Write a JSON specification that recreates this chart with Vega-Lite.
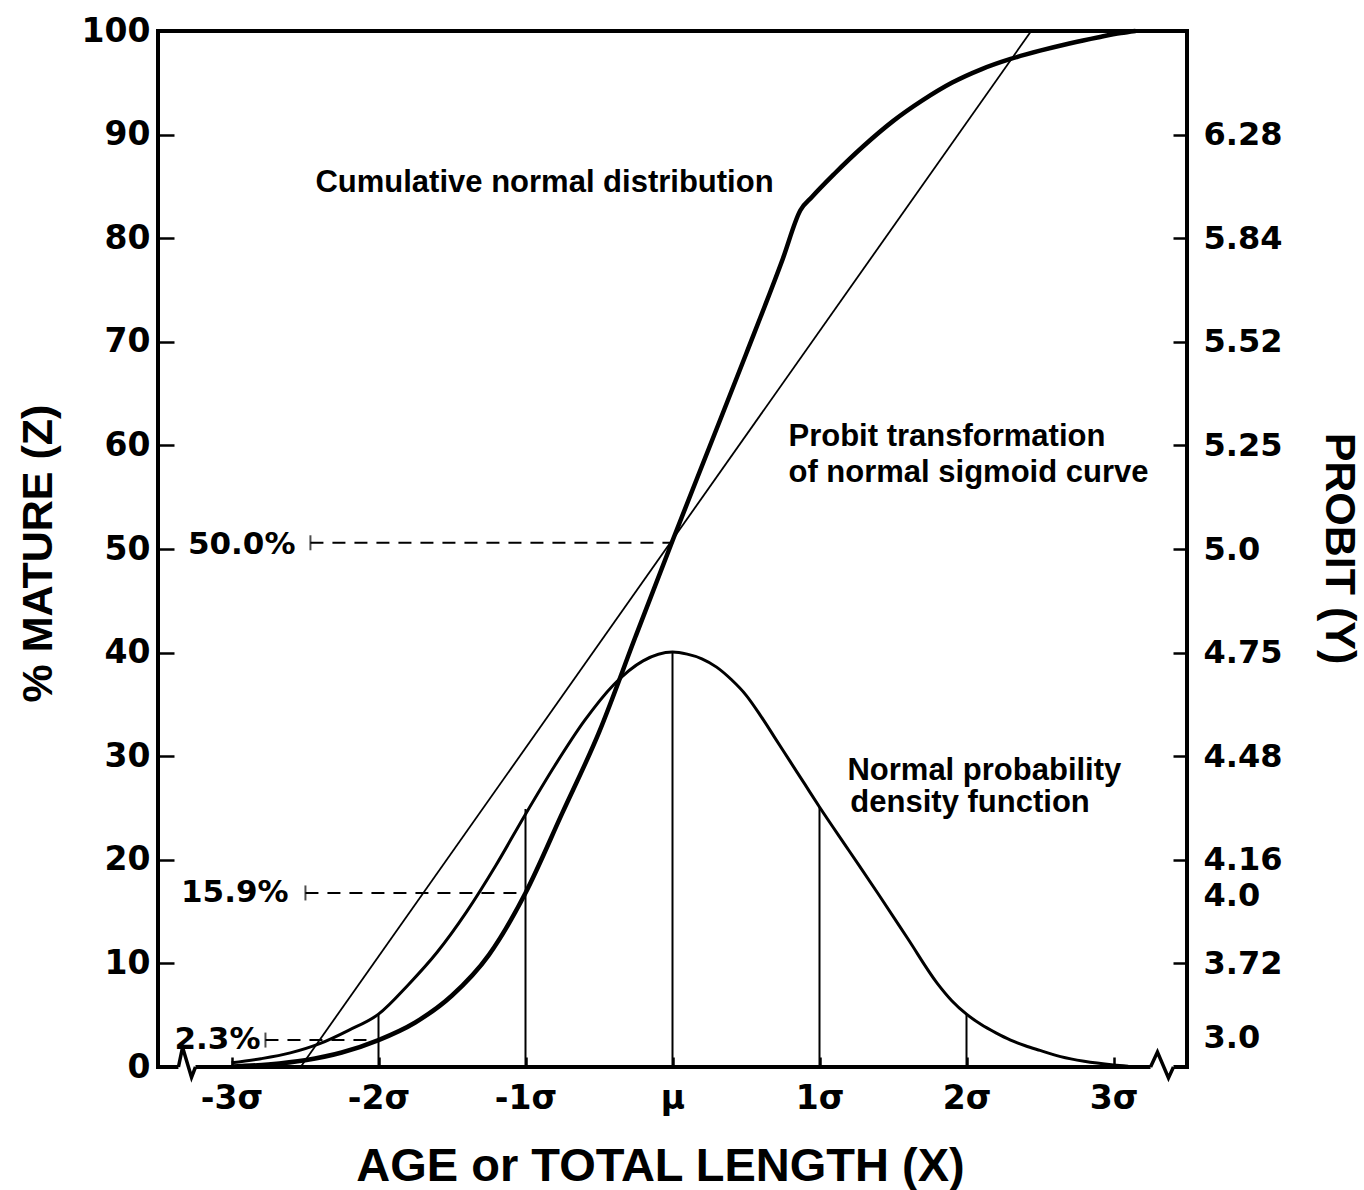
{
  "$schema": "https://vega.github.io/schema/vega-lite/v6.json",
  "width": 1029,
  "height": 1036,
  "autosize": {"type": "none"},
  "padding": {"left": 158, "top": 31, "right": 177, "bottom": 123},
  "background": "white",
  "config": {
    "view": {"stroke": "black", "strokeWidth": 4},
    "axis": {
      "domain": false, "grid": false,
      "labelFont": "DejaVu Sans", "labelFontWeight": "bold", "labelFontSize": 33, "labelColor": "black",
      "tickColor": "black", "tickWidth": 2.5,
      "titleFont": "Liberation Sans", "titleFontWeight": "bold", "titleColor": "black",
      "labelOverlap": false, "labelFlush": false
    }
  },
  "datasets": {
    "cdf": [
      {"x": -3.0, "y": 0.05}, {"x": -2.75, "y": 0.25}, {"x": -2.5, "y": 0.65}, {"x": -2.25, "y": 1.4},
      {"x": -2.0, "y": 2.6}, {"x": -1.75, "y": 4.3}, {"x": -1.5, "y": 6.9}, {"x": -1.25, "y": 10.8},
      {"x": -1.0, "y": 16.8}, {"x": -0.75, "y": 24.5}, {"x": -0.5, "y": 32.3}, {"x": -0.25, "y": 41.6},
      {"x": 0.0, "y": 50.8}, {"x": 0.25, "y": 59.8}, {"x": 0.5, "y": 68.8}, {"x": 0.75, "y": 78.0},
      {"x": 0.87, "y": 82.7}, {"x": 0.95, "y": 84.0}, {"x": 1.1, "y": 86.2}, {"x": 1.3, "y": 88.9},
      {"x": 1.5, "y": 91.3}, {"x": 1.7, "y": 93.3}, {"x": 1.9, "y": 95.0}, {"x": 2.1, "y": 96.3},
      {"x": 2.3, "y": 97.3}, {"x": 2.5, "y": 98.1}, {"x": 2.7, "y": 98.8}, {"x": 2.9, "y": 99.4},
      {"x": 3.05, "y": 99.8}, {"x": 3.15, "y": 100.0}
    ],
    "pdf": [
      {"x": -3.0, "y": 0.4}, {"x": -2.8, "y": 0.8}, {"x": -2.6, "y": 1.36}, {"x": -2.4, "y": 2.25},
      {"x": -2.2, "y": 3.56}, {"x": -2.0, "y": 5.1}, {"x": -1.8, "y": 7.9}, {"x": -1.6, "y": 11.1},
      {"x": -1.4, "y": 15.0}, {"x": -1.2, "y": 19.5}, {"x": -1.0, "y": 24.4}, {"x": -0.8, "y": 29.1},
      {"x": -0.6, "y": 33.4}, {"x": -0.4, "y": 36.9}, {"x": -0.2, "y": 39.2}, {"x": 0.0, "y": 40.05},
      {"x": 0.1, "y": 39.85}, {"x": 0.2, "y": 39.4}, {"x": 0.3, "y": 38.6}, {"x": 0.4, "y": 37.4},
      {"x": 0.5, "y": 35.9}, {"x": 0.6, "y": 33.9}, {"x": 0.7, "y": 31.7}, {"x": 0.8, "y": 29.5},
      {"x": 0.9, "y": 27.3}, {"x": 1.0, "y": 25.1}, {"x": 1.2, "y": 20.9}, {"x": 1.4, "y": 16.7},
      {"x": 1.6, "y": 12.4}, {"x": 1.8, "y": 8.1}, {"x": 1.9, "y": 6.4}, {"x": 2.0, "y": 5.1},
      {"x": 2.1, "y": 4.1}, {"x": 2.2, "y": 3.3}, {"x": 2.3, "y": 2.6}, {"x": 2.4, "y": 2.05},
      {"x": 2.5, "y": 1.6}, {"x": 2.64, "y": 1.0}, {"x": 2.8, "y": 0.55}, {"x": 3.0, "y": 0.2},
      {"x": 3.1, "y": 0.08}
    ],
    "probit": [{"x": -2.53, "y": 0}, {"x": 2.44, "y": 100}],
    "vlines": [
      {"x": -2, "top": 5.1, "base": 0}, {"x": -1, "top": 24.9, "base": 0}, {"x": 0, "top": 40.05, "base": 0},
      {"x": 1, "top": 25.1, "base": 0}, {"x": 2, "top": 5.1, "base": 0}
    ],
    "dashes": [
      {"x1": -2.463, "x2": 0.0, "y": 50.6, "label": "50.0%", "lx": -2.565, "ly": 50.4},
      {"x1": -2.497, "x2": -1.0, "y": 16.8, "label": "15.9%", "lx": -2.612, "ly": 16.8},
      {"x1": -2.769, "x2": -2.0, "y": 2.6, "label": "2.3%", "lx": -2.803, "ly": 2.6}
    ],
    "notes": [
      {"x": -2.429, "y": 85.3, "text": "Cumulative normal distribution"},
      {"x": 0.789, "y": 60.8, "text": "Probit transformation"},
      {"x": 0.789, "y": 57.3, "text": "of normal sigmoid curve"},
      {"x": 1.19, "y": 28.6, "text": "Normal probability"},
      {"x": 1.21, "y": 25.5, "text": "density function"}
    ],
    "gaps": [
      {"g": "L", "x1": -3.361, "x2": -3.245, "y": 0},
      {"g": "R", "x1": 3.252, "x2": 3.408, "y": 0}
    ],
    "breaks": [
      {"g": "L", "x": -3.361, "y": 0}, {"g": "L", "x": -3.333, "y": 1.9}, {"g": "L", "x": -3.272, "y": -1.0}, {"g": "L", "x": -3.245, "y": 0},
      {"g": "R", "x": 3.252, "y": 0}, {"g": "R", "x": 3.299, "y": 1.45}, {"g": "R", "x": 3.374, "y": -1.06}, {"g": "R", "x": 3.408, "y": 0}
    ]
  },
  "resolve": {"axis": {"x": "independent", "y": "independent"}},
  "layer": [
    {
      "data": {"name": "vlines"},
      "mark": {"type": "rule", "color": "black", "strokeWidth": 2},
      "encoding": {
        "x": {"field": "x", "type": "quantitative", "scale": {"domain": [-3.5, 3.5], "nice": false, "zero": false},
          "axis": {
            "orient": "bottom", "values": [-3, -2, -1, 0, 1, 2, 3],
            "labelExpr": "datum.value == 0 ? 'μ' : datum.value + 'σ'",
            "tickSize": -10, "labelPadding": 25,
            "title": "AGE or TOTAL LENGTH (X)", "titleFontSize": 47,
            "titleX": 502, "titleY": 99, "titleAlign": "center", "titleBaseline": "middle"
          }},
        "y": {"field": "top", "type": "quantitative", "scale": {"domain": [0, 100], "nice": false, "zero": false},
          "axis": {
            "orient": "left", "values": [0, 10, 20, 30, 40, 50, 60, 70, 80, 90, 100],
            "tickSize": -16, "labelPadding": 24,
            "title": "% MATURE (Z)", "titleFontSize": 43, "titleAngle": -90,
            "titleX": -120, "titleY": 522, "titleAlign": "center", "titleBaseline": "middle"
          }},
        "y2": {"field": "base"}
      }
    },
    {
      "data": {"name": "probit"},
      "mark": {"type": "line", "color": "black", "strokeWidth": 1.8},
      "encoding": {
        "x": {"field": "x", "type": "quantitative", "scale": {"domain": [-3.5, 3.5], "nice": false, "zero": false}, "axis": null},
        "y": {"field": "y", "type": "quantitative", "scale": {"domain": [0, 100], "nice": false, "zero": false}, "axis": null}
      }
    },
    {
      "data": {"name": "pdf"},
      "mark": {"type": "line", "color": "black", "strokeWidth": 3, "interpolate": "monotone"},
      "encoding": {
        "x": {"field": "x", "type": "quantitative", "scale": {"domain": [-3.5, 3.5], "nice": false, "zero": false}, "axis": null},
        "y": {"field": "y", "type": "quantitative", "scale": {"domain": [0, 100], "nice": false, "zero": false},
          "axis": {
            "orient": "right", "values": [90, 80, 70, 60, 50, 40, 30, 20, 16.6, 10, 2.8],
            "labelExpr": "datum.value == 90 ? '6.28' : datum.value == 80 ? '5.84' : datum.value == 70 ? '5.52' : datum.value == 60 ? '5.25' : datum.value == 50 ? '5.0' : datum.value == 40 ? '4.75' : datum.value == 30 ? '4.48' : datum.value == 20 ? '4.16' : datum.value == 16.6 ? '4.0' : datum.value == 10 ? '3.72' : '3.0'",
            "tickSize": -14, "labelPadding": 30, "labelAlign": "left", "labelFontSize": 32,
            "tickOpacity": {"condition": {"test": "datum.value == 16.6 || datum.value == 2.8", "value": 0}, "value": 1},
            "title": "PROBIT (Y)", "titleFontSize": 43, "titleAngle": 90,
            "titleX": 151, "titleY": 517, "titleAlign": "center", "titleBaseline": "middle"
          }}
      }
    },
    {
      "data": {"name": "cdf"},
      "mark": {"type": "line", "color": "black", "strokeWidth": 4.5, "interpolate": "monotone"},
      "encoding": {
        "x": {"field": "x", "type": "quantitative", "scale": {"domain": [-3.5, 3.5], "nice": false, "zero": false}, "axis": null},
        "y": {"field": "y", "type": "quantitative", "scale": {"domain": [0, 100], "nice": false, "zero": false}, "axis": null}
      }
    },
    {
      "data": {"name": "dashes"},
      "mark": {"type": "rule", "color": "black", "strokeWidth": 2, "strokeDash": [13, 9]},
      "encoding": {
        "x": {"field": "x1", "type": "quantitative", "scale": {"domain": [-3.5, 3.5], "nice": false, "zero": false}, "axis": null},
        "x2": {"field": "x2"},
        "y": {"field": "y", "type": "quantitative", "scale": {"domain": [0, 100], "nice": false, "zero": false}, "axis": null}
      }
    },
    {
      "data": {"name": "dashes"},
      "mark": {"type": "tick", "orient": "vertical", "color": "black", "size": 15, "thickness": 2},
      "encoding": {
        "x": {"field": "x1", "type": "quantitative", "scale": {"domain": [-3.5, 3.5], "nice": false, "zero": false}, "axis": null},
        "y": {"field": "y", "type": "quantitative", "scale": {"domain": [0, 100], "nice": false, "zero": false}, "axis": null}
      }
    },
    {
      "data": {"name": "dashes"},
      "mark": {"type": "text", "align": "right", "baseline": "middle", "font": "DejaVu Sans", "fontWeight": "bold", "fontSize": 31, "color": "black"},
      "encoding": {
        "x": {"field": "lx", "type": "quantitative", "scale": {"domain": [-3.5, 3.5], "nice": false, "zero": false}, "axis": null},
        "y": {"field": "ly", "type": "quantitative", "scale": {"domain": [0, 100], "nice": false, "zero": false}, "axis": null},
        "text": {"field": "label"}
      }
    },
    {
      "data": {"name": "notes"},
      "mark": {"type": "text", "align": "left", "baseline": "middle", "font": "Liberation Sans", "fontWeight": "bold", "fontSize": 31, "color": "black"},
      "encoding": {
        "x": {"field": "x", "type": "quantitative", "scale": {"domain": [-3.5, 3.5], "nice": false, "zero": false}, "axis": null},
        "y": {"field": "y", "type": "quantitative", "scale": {"domain": [0, 100], "nice": false, "zero": false}, "axis": null},
        "text": {"field": "text"}
      }
    },
    {
      "data": {"name": "gaps"},
      "mark": {"type": "rule", "color": "white", "strokeWidth": 8},
      "encoding": {
        "x": {"field": "x1", "type": "quantitative", "scale": {"domain": [-3.5, 3.5], "nice": false, "zero": false}, "axis": null},
        "x2": {"field": "x2"},
        "y": {"field": "y", "type": "quantitative", "scale": {"domain": [0, 100], "nice": false, "zero": false}, "axis": null}
      }
    },
    {
      "data": {"name": "breaks"},
      "mark": {"type": "line", "color": "black", "strokeWidth": 3.5},
      "encoding": {
        "x": {"field": "x", "type": "quantitative", "scale": {"domain": [-3.5, 3.5], "nice": false, "zero": false}, "axis": null},
        "y": {"field": "y", "type": "quantitative", "scale": {"domain": [0, 100], "nice": false, "zero": false}, "axis": null},
        "detail": {"field": "g"},
        "order": {"field": "x"}
      }
    }
  ]
}
